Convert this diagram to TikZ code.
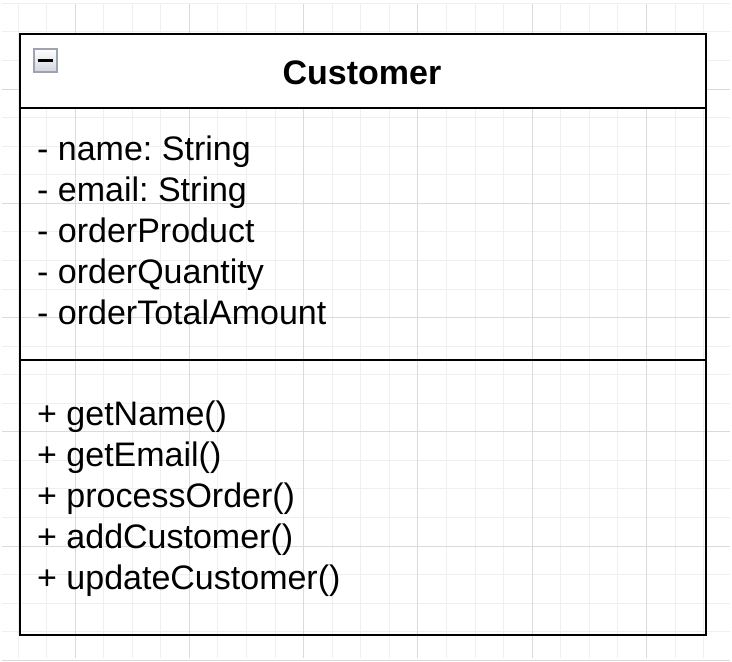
\documentclass[tikz,border=0pt]{standalone}
\usepackage{fontspec}
\setmainfont{Liberation Sans}
\usepackage{xcolor}
\usetikzlibrary{positioning}
\frenchspacing

\definecolor{gridminor}{HTML}{EFEFEF}
\definecolor{gridmajor}{HTML}{DADADA}
\definecolor{iconframe}{HTML}{9EA3B2}
\definecolor{iconshade}{HTML}{D3D6DE}

\begin{document}
\begin{tikzpicture}[x=1pt, y=-1pt,
  compartment/.style={draw=black, line width=2.2pt, anchor=north west, inner sep=0pt, outer sep=0pt, minimum width=686pt},
  member/.style={anchor=base west, inner sep=0pt, font=\fontsize{34}{40}\selectfont}]
\useasboundingbox (0,0) rectangle (732,662);
% background grid
\foreach \i in {0,...,24}
  \draw[gridminor, line width=1pt] ({18+28.57*\i},4) -- ({18+28.57*\i},658);
\foreach \j in {0,...,23}
  \draw[gridminor, line width=1pt] (2,{3.3+28.57*\j}) -- (730,{3.3+28.57*\j});
\foreach \i in {0,...,5}
  \draw[gridmajor, line width=1pt] ({75+114.29*\i},4) -- ({75+114.29*\i},658);
\foreach \j in {0,...,5}
  \draw[gridmajor, line width=1pt] (2,{89+114.29*\j}) -- (730,{89+114.29*\j});

% class box
\node[compartment, fill=white, minimum height=74pt] (header) at (20,34) {};
\node[compartment, minimum height=252pt] (attrs) at (header.south west) {};
\node[compartment, minimum height=275pt] (ops) at (attrs.south west) {};

% collapse icon
\node[draw=iconframe, line width=1.5pt, top color=white, bottom color=iconshade,
  minimum size=23pt, inner sep=0pt, anchor=north west] (icon) at (33,48) {};
\draw[line width=3.5pt] ([xshift=4.5pt]icon.west) -- ([xshift=-4.5pt]icon.east);

\node[anchor=base, inner sep=0pt, font=\fontsize{34}{40}\selectfont\bfseries] (title) at (362,84) {Customer};

% attributes
\node[member] (name) at (37,160) {- name: String};
\node[member] (email) at (37,201) {- email: String};
\node[member] (product) at (37,242) {- orderProduct};
\node[member] (quantity) at (37,283) {- orderQuantity};
\node[member] (total) at (37,324) {- orderTotalAmount};

% operations
\node[member] (getname) at (37,425) {+ getName()};
\node[member] (getemail) at (37,466) {+ getEmail()};
\node[member] (process) at (37,507) {+ processOrder()};
\node[member] (add) at (37,548) {+ addCustomer()};
\node[member] (update) at (37,589) {+ updateCustomer()};
\end{tikzpicture}
\end{document}
